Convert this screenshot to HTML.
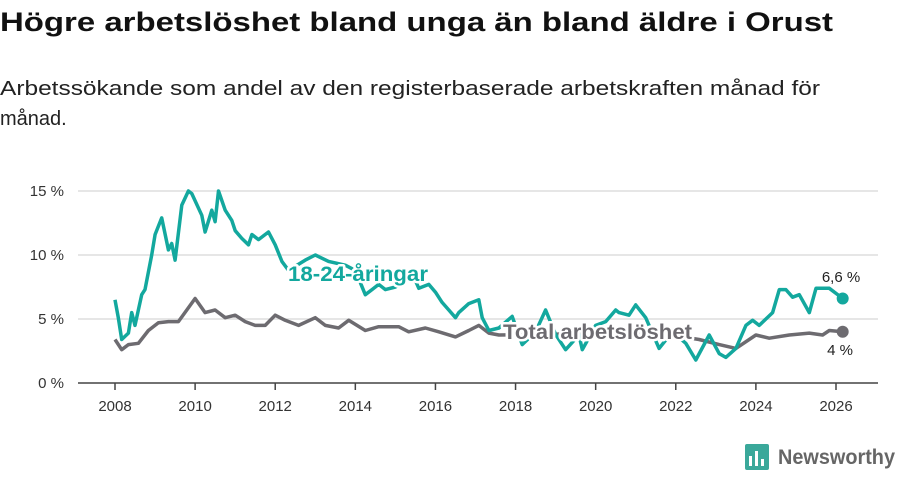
<!DOCTYPE html>
<html><head><meta charset="utf-8"><style>
body{margin:0;background:#fff;}
svg text{font-family:"Liberation Sans",sans-serif;}
</style></head><body>
<svg id="chart" width="900" height="474" viewBox="0 0 900 474" xmlns="http://www.w3.org/2000/svg">
<text x="0" y="31" font-size="27" font-weight="bold" fill="#111" textLength="833" lengthAdjust="spacingAndGlyphs">Högre arbetslöshet bland unga än bland äldre i Orust</text>
<text x="0" y="95" font-size="20" fill="#222" textLength="820" lengthAdjust="spacingAndGlyphs">Arbetssökande som andel av den registerbaserade arbetskraften månad för</text>
<text x="0" y="125" font-size="20" fill="#222">månad.</text>
<g id="grid"></g><g id="axes"></g><g id="series"></g><g id="labels"></g>
<g>
<rect x="745" y="444" width="24" height="26" rx="2" fill="#3aa89a"/>
<rect x="749" y="456" width="3" height="10" fill="#fff"/><rect x="755" y="451" width="3" height="15" fill="#fff"/><rect x="761" y="459" width="3" height="7" fill="#fff"/>
<text x="778" y="464" font-size="21" font-weight="bold" fill="#666" textLength="117" lengthAdjust="spacingAndGlyphs">Newsworthy</text>
</g>
</svg>
<script>
const youthMonths=[0,1,2,4,5,6,8,9,11,12,14,16,17,18,20,22,23,26,27,29,30,31,33,35,36,38,40,41,43,45,46,48,50,52,57,60,64,69,72,75,77,79,81,84,87,90,91,94,96,98,100,102,103,106,109,110,112,115,119,122,126,129,132,135,139,140,144,147,150,151,154,156,159,163,167,171,174,178,181,183,186,189,191,193,195,197,199,201,203,205,208,210,214,216,218];
const youthValues=[6.5,5.1,3.4,3.9,5.5,4.5,6.9,7.3,10,11.6,12.9,10.4,10.9,9.6,13.9,15,14.8,13.1,11.8,13.5,12.6,15,13.5,12.7,11.9,11.3,10.8,11.6,11.2,11.6,11.8,10.8,9.5,8.8,9.6,10,9.5,9.2,8.8,6.9,7.3,7.7,7.3,7.5,8,8,7.4,7.7,7.1,6.3,5.7,5.1,5.5,6.2,6.5,5.1,4.1,4.3,5.2,3.0,4.0,5.7,3.8,2.6,3.75,2.6,4.5,4.8,5.7,5.5,5.3,6.1,5.1,2.7,4.0,3.1,1.8,3.75,2.3,2.0,2.7,4.5,4.9,4.5,5.0,5.5,7.3,7.3,6.7,6.9,5.5,7.4,7.4,7.0,6.6];
const totalMonths=[0,2,4,7,10,13,16,19,24,27,30,33,36,39,42,45,48,51,55,60,63,67,70,75,79,85,88,93,97,102,106,109,112,115,130,145,160,170,175,181,186,192,196,202,208,212,214,218];
const totalValues=[3.4,2.6,3.0,3.1,4.1,4.7,4.8,4.8,6.6,5.5,5.7,5.1,5.3,4.8,4.5,4.5,5.3,4.9,4.5,5.1,4.5,4.3,4.9,4.1,4.4,4.4,4.0,4.3,4.0,3.6,4.1,4.5,3.9,3.75,3.8,3.9,3.8,3.6,3.4,3.0,2.7,3.75,3.5,3.75,3.9,3.75,4.1,4.0];
const yTicks=[0,5,10,15];
const xTickYears=[2008,2010,2012,2014,2016,2018,2020,2022,2024,2026];
const NS="http://www.w3.org/2000/svg";
const xScale=m=>115+m*(836-115)/216;
const yScale=v=>383-v*12.8;
function mk(tag,attrs,parent,txt){const e=document.createElementNS(NS,tag);for(const k in attrs)e.setAttribute(k,attrs[k]);if(txt!==undefined)e.textContent=txt;parent.appendChild(e);return e;}
const grid=document.getElementById('grid'),axes=document.getElementById('axes'),series=document.getElementById('series'),labels=document.getElementById('labels');
yTicks.forEach(v=>{
 if(v>0){const g=mk('line',{x1:78,x2:878,y1:yScale(v),y2:yScale(v),stroke:'#ddd','stroke-width':1.5},grid);
 
 }
 const t=mk('text',{x:64,y:yScale(v)+5,'font-size':15,fill:'#333','text-anchor':'end'},axes,v+' %');
 
 
});
const ax=mk('line',{x1:78,x2:878,y1:383,y2:383,stroke:'#444','stroke-width':1.5},axes);


xTickYears.forEach(y=>{const x=xScale((y-2008)*12);
 const tk=mk('line',{x1:x,x2:x,y1:383,y2:390,stroke:'#444','stroke-width':1.5},axes);
 
 
 const t=mk('text',{x:x,y:411,'font-size':15,fill:'#333','text-anchor':'middle'},axes,String(y));
 
 
});
function path(ms,vs){return ms.map((m,i)=>(i?'L':'M')+xScale(m).toFixed(1)+','+yScale(vs[i]).toFixed(1)).join('');}
const pt=mk('path',{d:path(totalMonths,totalValues),fill:'none',stroke:'#6d6b70','stroke-width':3.5,'stroke-linejoin':'round'},series);


const py=mk('path',{d:path(youthMonths,youthValues),fill:'none',stroke:'#13a89e','stroke-width':3.5,'stroke-linejoin':'round'},series);


const lt=totalMonths.length-1,ly=youthMonths.length-1;
const dt=mk('circle',{cx:xScale(totalMonths[lt]),cy:yScale(totalValues[lt]),r:6,fill:'#6d6b70'},series);


const dy=mk('circle',{cx:xScale(youthMonths[ly]),cy:yScale(youthValues[ly]),r:6,fill:'#13a89e'},series);


const l1=mk('text',{x:288,y:281,'font-size':21,'font-weight':'bold',fill:'#13a89e',stroke:'#fff','stroke-width':5,'paint-order':'stroke','stroke-linejoin':'round',textLength:140,lengthAdjust:'spacingAndGlyphs'},labels,'18-24-åringar');


const l2=mk('text',{x:503,y:339,'font-size':21,'font-weight':'bold',fill:'#6d6b70',stroke:'#fff','stroke-width':5,'paint-order':'stroke','stroke-linejoin':'round',textLength:189,lengthAdjust:'spacingAndGlyphs'},labels,'Total arbetslöshet');


const v1=mk('text',{x:841,y:282,'font-size':15,fill:'#222','text-anchor':'middle'},labels,'6,6 %');


const v2=mk('text',{x:840,y:355,'font-size':15,fill:'#222','text-anchor':'middle'},labels,'4 %');


</script>
</body></html>
